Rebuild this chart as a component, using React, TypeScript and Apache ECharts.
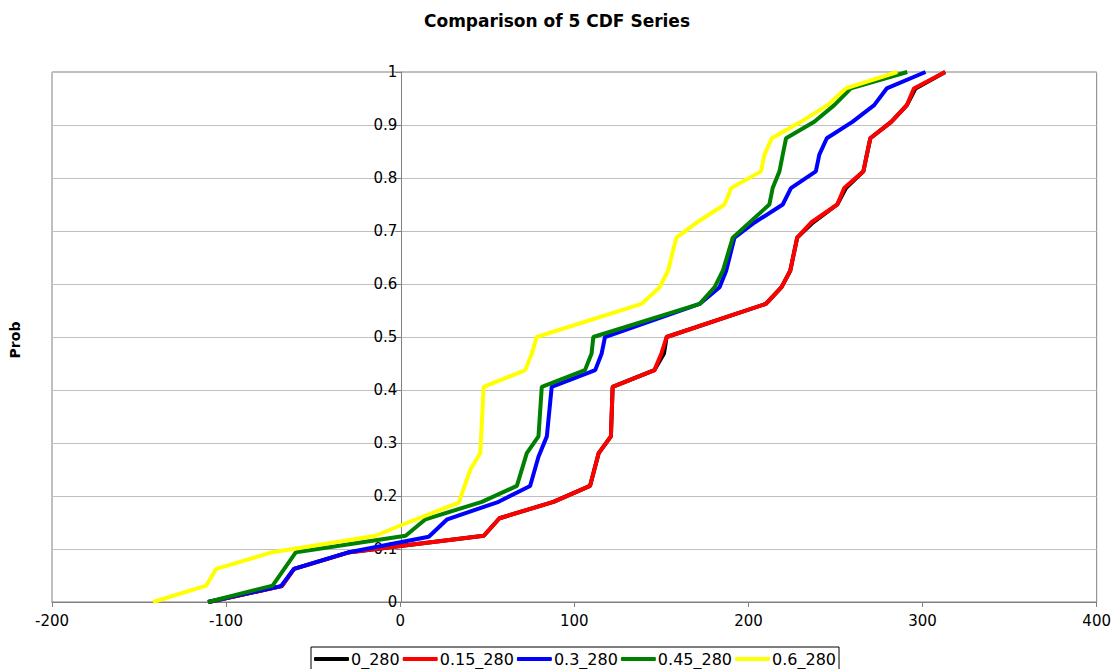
import React, { useEffect, useRef } from "react";
import * as echarts from "echarts";

const seriesNames = ["0_280", "0.15_280", "0.3_280", "0.45_280", "0.6_280"];
const seriesColors = ["#000000", "#FF0000", "#0000FF", "#008000", "#FFFF00"];

const cdf0: number[][] = [
  [-110, 0], [-68, 0.03], [-61, 0.0625], [-29, 0.094], [48, 0.125], [57, 0.158], [88, 0.189],
  [109, 0.219], [114, 0.281], [121, 0.3125], [122, 0.406], [146, 0.4375], [151.5, 0.469],
  [153, 0.5], [210, 0.5625], [219, 0.594], [224, 0.625], [228, 0.6875], [237, 0.716],
  [251, 0.75], [256, 0.781], [266, 0.8125], [268, 0.844], [270, 0.875], [282, 0.906],
  [291, 0.9375], [296, 0.969], [313, 1],
];
const cdf015: number[][] = [
  [-110, 0], [-68, 0.03], [-61, 0.0625], [-29, 0.094], [48, 0.125], [57, 0.158], [88, 0.189],
  [109, 0.219], [114, 0.281], [121, 0.3125], [122, 0.406], [146, 0.4375], [150, 0.469],
  [153, 0.5], [210, 0.5625], [219, 0.594], [224, 0.625], [228, 0.6875], [236, 0.716],
  [251, 0.75], [255, 0.781], [266, 0.8125], [268, 0.844], [270, 0.875], [282, 0.906],
  [291, 0.9375], [295, 0.969], [313, 1],
];
const cdf03: number[][] = [
  [-110.5, 0], [-68.5, 0.03], [-61, 0.0625], [-29.4, 0.094], [16.4, 0.123], [27, 0.156],
  [56.5, 0.189], [74.6, 0.219], [79.4, 0.274], [84.2, 0.3125], [87, 0.406], [112, 0.4375],
  [115.7, 0.469], [117.6, 0.5], [172, 0.5625], [183.4, 0.594], [187.2, 0.625], [192, 0.6875],
  [203.5, 0.716], [219.7, 0.75], [224.4, 0.781], [238.7, 0.8125], [240.7, 0.844], [245, 0.875],
  [259.7, 0.906], [272.2, 0.9375], [279.4, 0.969], [301.7, 1],
];
const cdf045: number[][] = [
  [-110.5, 0], [-73.3, 0.031], [-59.9, 0.094], [3.1, 0.125], [14.5, 0.156], [46.9, 0.189],
  [67, 0.219], [72.7, 0.281], [79.4, 0.3125], [81.3, 0.406], [106.1, 0.4375], [109.9, 0.469],
  [110.9, 0.5], [172, 0.5625], [180.6, 0.594], [185.3, 0.625], [191, 0.6875], [212, 0.75],
  [213.9, 0.781], [217.8, 0.8125], [219.7, 0.844], [221.6, 0.875], [237.8, 0.906],
  [249.3, 0.9375], [258.8, 0.969], [291.2, 1],
];
const cdf06: number[][] = [
  [-142, 0], [-111.4, 0.031], [-105.7, 0.0625], [-73.3, 0.094], [-14.1, 0.125], [-1.7, 0.142],
  [33.6, 0.1875], [40.3, 0.25], [46, 0.281], [47.9, 0.406], [71.8, 0.4375], [75.6, 0.469],
  [78.4, 0.5], [138.6, 0.5625], [149, 0.594], [153.8, 0.625], [158.6, 0.6875], [171, 0.7175],
  [186.3, 0.75], [190.1, 0.781], [207.2, 0.8125], [209.2, 0.844], [213.4, 0.875],
  [230.1, 0.906], [245.4, 0.9375], [255.9, 0.969], [285.5, 1],
];
const allData = [cdf0, cdf015, cdf03, cdf045, cdf06];

const xMin = -200;
const xMax = 400;
const xStep = 100;
const yMin = 0;
const yMax = 1;
const yStep = 0.1;

const FONT = "'DejaVu Sans', Arial, sans-serif";
const GRID_LEFT = 52;
const GRID_RIGHT = 14;
const CHART_W = 1114;

export default function App() {
  const ref = useRef<HTMLDivElement>(null);
  useEffect(() => {
    if (!ref.current) return;
    const chart = echarts.init(ref.current, undefined, { renderer: "svg" });
    const plotW = CHART_W - GRID_LEFT - GRID_RIGHT;
    const zeroOffset = ((0 - xMin) / (xMax - xMin)) * plotW;
    chart.setOption({
      animation: false,
      backgroundColor: "#ffffff",
      textStyle: { fontFamily: FONT },
      title: {
        text: "Comparison of 5 CDF Series",
        left: "center",
        top: 7,
        textStyle: { fontFamily: FONT, fontSize: 17, fontWeight: "bold", color: "#000" },
      },
      grid: {
        left: GRID_LEFT,
        right: GRID_RIGHT,
        top: 72,
        bottom: 67,
        show: true,
        borderColor: "#808080",
        borderWidth: 1,
        backgroundColor: "transparent",
      },
      legend: {
        data: seriesNames,
        top: 647,
        left: 311,
        borderColor: "#000",
        borderWidth: 1,
        padding: [4, 3, 8, 3],
        itemGap: 3,
        itemWidth: 35,
        itemHeight: 4,
        icon: "roundRect",
        textStyle: { fontFamily: FONT, fontSize: 16, color: "#000", padding: [0, 0, 0, -3] },
      },
      graphic: [
        {
          type: "text",
          x: 15,
          y: 340,
          rotation: Math.PI / 2,
          style: {
            text: "Prob",
            font: `bold 14px ${FONT}`,
            fill: "#000",
            textAlign: "center",
            textVerticalAlign: "middle",
          },
        },
      ],
      xAxis: {
        type: "value",
        min: xMin,
        max: xMax,
        interval: xStep,
        splitLine: { show: false },
        axisLine: { show: true, onZero: false, lineStyle: { color: "#808080", width: 1 } },
        axisTick: { show: true, length: 5, inside: false, lineStyle: { color: "#808080" } },
        axisLabel: { color: "#000", fontSize: 15, fontFamily: FONT, margin: 11 },
      },
      yAxis: {
        type: "value",
        min: yMin,
        max: yMax,
        interval: yStep,
        offset: -zeroOffset,
        axisLine: { show: true, onZero: false, lineStyle: { color: "#808080", width: 1 } },
        axisTick: { show: true, length: 6, lineStyle: { color: "#808080" } },
        axisLabel: {
          color: "#000",
          fontSize: 15,
          fontFamily: FONT,
          margin: 4,
          formatter: (v: number) => String(Math.round(v * 10) / 10),
        },
        splitLine: { show: true, lineStyle: { color: "#c0c0c0", width: 1 } },
      },
      series: allData.map((d, i) => ({
        name: seriesNames[i],
        type: "line",
        data: d,
        showSymbol: false,
        symbol: "none",
        z: 2 + i,
        color: seriesColors[i],
        lineStyle: { color: seriesColors[i], width: 4 },
        itemStyle: { color: seriesColors[i] },
      })),
    });
    return () => chart.dispose();
  }, []);
  return (
    <div
      ref={ref}
      style={{ position: "fixed", left: 0, top: 0, width: CHART_W, height: 669 }}
    />
  );
}
